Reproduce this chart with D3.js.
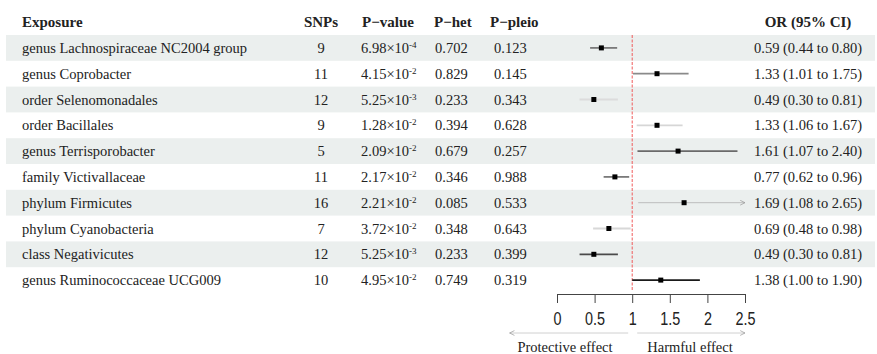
<!DOCTYPE html>
<html>
<head>
<meta charset="utf-8">
<script src="https://cdn.jsdelivr.net/npm/d3@7"></script>
<style>
  body { margin: 0; background: #fff; }
  text { font-family: "Liberation Serif", "Times New Roman", serif; fill: #222; }
</style>
</head>
<body>
<svg id="chart" width="877" height="354"></svg>
<script>
// chart values
const exposures = [
  "genus Lachnospiraceae NC2004 group", "genus Coprobacter", "order Selenomonadales",
  "order Bacillales", "genus Terrisporobacter", "family Victivallaceae",
  "phylum Firmicutes", "phylum Cyanobacteria", "class Negativicutes",
  "genus Ruminococcaceae UCG009"
];
const snps = [9, 11, 12, 9, 5, 11, 16, 7, 12, 10];
const pMantissa = ["6.98", "4.15", "5.25", "1.28", "2.09", "2.17", "2.21", "3.72", "5.25", "4.95"];
const pExponent = ["-4", "-2", "-3", "-2", "-2", "-2", "-2", "-2", "-3", "-2"];
const pHet = ["0.702", "0.829", "0.233", "0.394", "0.679", "0.346", "0.085", "0.348", "0.233", "0.749"];
const pPleio = ["0.123", "0.145", "0.343", "0.628", "0.257", "0.988", "0.533", "0.643", "0.399", "0.319"];
const orVal = [0.59, 1.33, 0.49, 1.33, 1.61, 0.77, 1.69, 0.69, 0.49, 1.38];
const ciLow = [0.44, 1.01, 0.30, 1.06, 1.07, 0.62, 1.08, 0.48, 0.30, 1.00];
const ciHigh = [0.80, 1.75, 0.81, 1.67, 2.40, 0.96, 2.65, 0.98, 0.81, 1.90];
const axisTicks = [0, 0.5, 1, 1.5, 2, 2.5];

// line shades per row (style)
const ciShade = ["#7a7a7a", "#8a8a8a", "#dcdcdc", "#d6d6d6", "#6a6a6a", "#7a7a7a", "#bdbdbd", "#d8d8d8", "#4a4a4a", "#1a1a1a"];

const rows = exposures.map((name, i) => ({
  name, snps: snps[i], pm: pMantissa[i], pe: pExponent[i], het: pHet[i], pleio: pPleio[i],
  or: orVal[i], lo: ciLow[i], hi: ciHigh[i], shade: ciShade[i]
}));

const svg = d3.select("#chart");
const fmt = d3.format(".2f");

const rowTop = 35, rowH = 25.8;
const y = i => rowTop + i * rowH;

const x = d3.scaleLinear().domain([0, 2.5]).range([557, 745]);

svg.append("defs").append("marker")
  .attr("id", "arr")
  .attr("viewBox", "0 0 10 10")
  .attr("refX", 9).attr("refY", 5)
  .attr("markerWidth", 6).attr("markerHeight", 6)
  .attr("markerUnits", "userSpaceOnUse")
  .attr("orient", "auto-start-reverse")
  .append("path")
  .attr("d", "M1,1 L9,5 L1,9")
  .attr("fill", "none")
  .attr("stroke", "#999")
  .attr("stroke-width", 1.2);

// zebra bands
svg.append("g").selectAll("rect")
  .data(rows.filter((d, i) => i % 2 === 0))
  .join("rect")
  .attr("x", 6).attr("width", 869)
  .attr("y", (d) => y(rows.indexOf(d)))
  .attr("height", rowH)
  .attr("fill", "#ebefee");

// headers
const head = svg.append("g").style("font-weight", "bold").style("font-size", "15px");
head.append("text").attr("x", 22).attr("y", 27).text("Exposure");
head.append("text").attr("x", 321).attr("y", 27).attr("text-anchor", "middle").text("SNPs");
head.append("text").attr("x", 362).attr("y", 27).text("P\u2212value");
head.append("text").attr("x", 434).attr("y", 27).text("P\u2212het");
head.append("text").attr("x", 490).attr("y", 27).text("P\u2212pleio");
head.append("text").attr("x", 808).attr("y", 27).attr("text-anchor", "middle").text("OR (95% CI)");

// table cells
const cell = svg.append("g").style("font-size", "14.5px")
  .selectAll("g").data(rows).join("g")
  .attr("transform", (d, i) => `translate(0,${y(i) + rowH / 2 + 5})`);

cell.append("text").attr("x", 22).text((d) => d.name);
cell.append("text").attr("x", 321).attr("text-anchor", "middle").text((d) => d.snps);
const pv = cell.append("text").attr("x", 361);
pv.append("tspan").text((d) => d.pm + "\u00d710");
pv.append("tspan").attr("dy", -5).style("font-size", "9px").text((d) => d.pe);
cell.append("text").attr("x", 435).text((d) => d.het);
cell.append("text").attr("x", 494).text((d) => d.pleio);
cell.append("text").attr("x", 808).attr("text-anchor", "middle")
  .text((d) => `${fmt(d.or)} (${fmt(d.lo)} to ${fmt(d.hi)})`);

// reference line at OR = 1
svg.append("line")
  .attr("x1", x(1)).attr("x2", x(1))
  .attr("y1", rowTop).attr("y2", 290)
  .attr("stroke", "#f05a5a")
  .attr("stroke-width", 1)
  .attr("stroke-dasharray", "3,1.5");

// CIs
const ci = svg.append("g").selectAll("g").data(rows).join("g")
  .attr("transform", (d, i) => `translate(0,${y(i) + rowH / 2})`);

ci.append("line")
  .attr("x1", (d) => x(d.lo))
  .attr("x2", (d) => x(Math.min(d.hi, 2.5)))
  .attr("stroke", (d) => d.shade)
  .attr("stroke-width", (d) => d.hi > 2.5 ? 1 : 1.8)
  .attr("marker-end", (d) => d.hi > 2.5 ? "url(#arr)" : null);

ci.append("rect")
  .attr("x", (d) => x(d.or) - 2.5)
  .attr("y", -2.5)
  .attr("width", 5).attr("height", 5)
  .attr("fill", "#000");

// axis
const axis = svg.append("g")
  .attr("transform", "translate(0,294)")
  .call(d3.axisBottom(x).tickValues(axisTicks).tickSize(9).tickSizeOuter(9).tickPadding(9).tickFormat(d3.format("~g")));
axis.selectAll("path, line").attr("stroke", "#444");
axis.selectAll("text")
  .style("font-family", "'Liberation Sans', sans-serif")
  .style("font-size", "18px")
  .attr("transform", "scale(0.8,1)")
  .attr("fill", "#222");

// effect arrows
svg.append("line")
  .attr("x1", x(1) - 4).attr("x2", x(-0.63))
  .attr("y1", 333).attr("y2", 333)
  .attr("stroke", "#d0d0d0").attr("stroke-width", 1)
  .attr("marker-end", "url(#arr)");
svg.append("line")
  .attr("x1", x(1) + 5).attr("x2", x(2.5))
  .attr("y1", 333).attr("y2", 333)
  .attr("stroke", "#d0d0d0").attr("stroke-width", 1)
  .attr("marker-end", "url(#arr)");

svg.append("text").attr("x", 565).attr("y", 352).attr("text-anchor", "middle")
  .style("font-size", "14.5px").text("Protective effect");
svg.append("text").attr("x", 690).attr("y", 352).attr("text-anchor", "middle")
  .style("font-size", "14.5px").text("Harmful effect");
</script>
</body>
</html>
